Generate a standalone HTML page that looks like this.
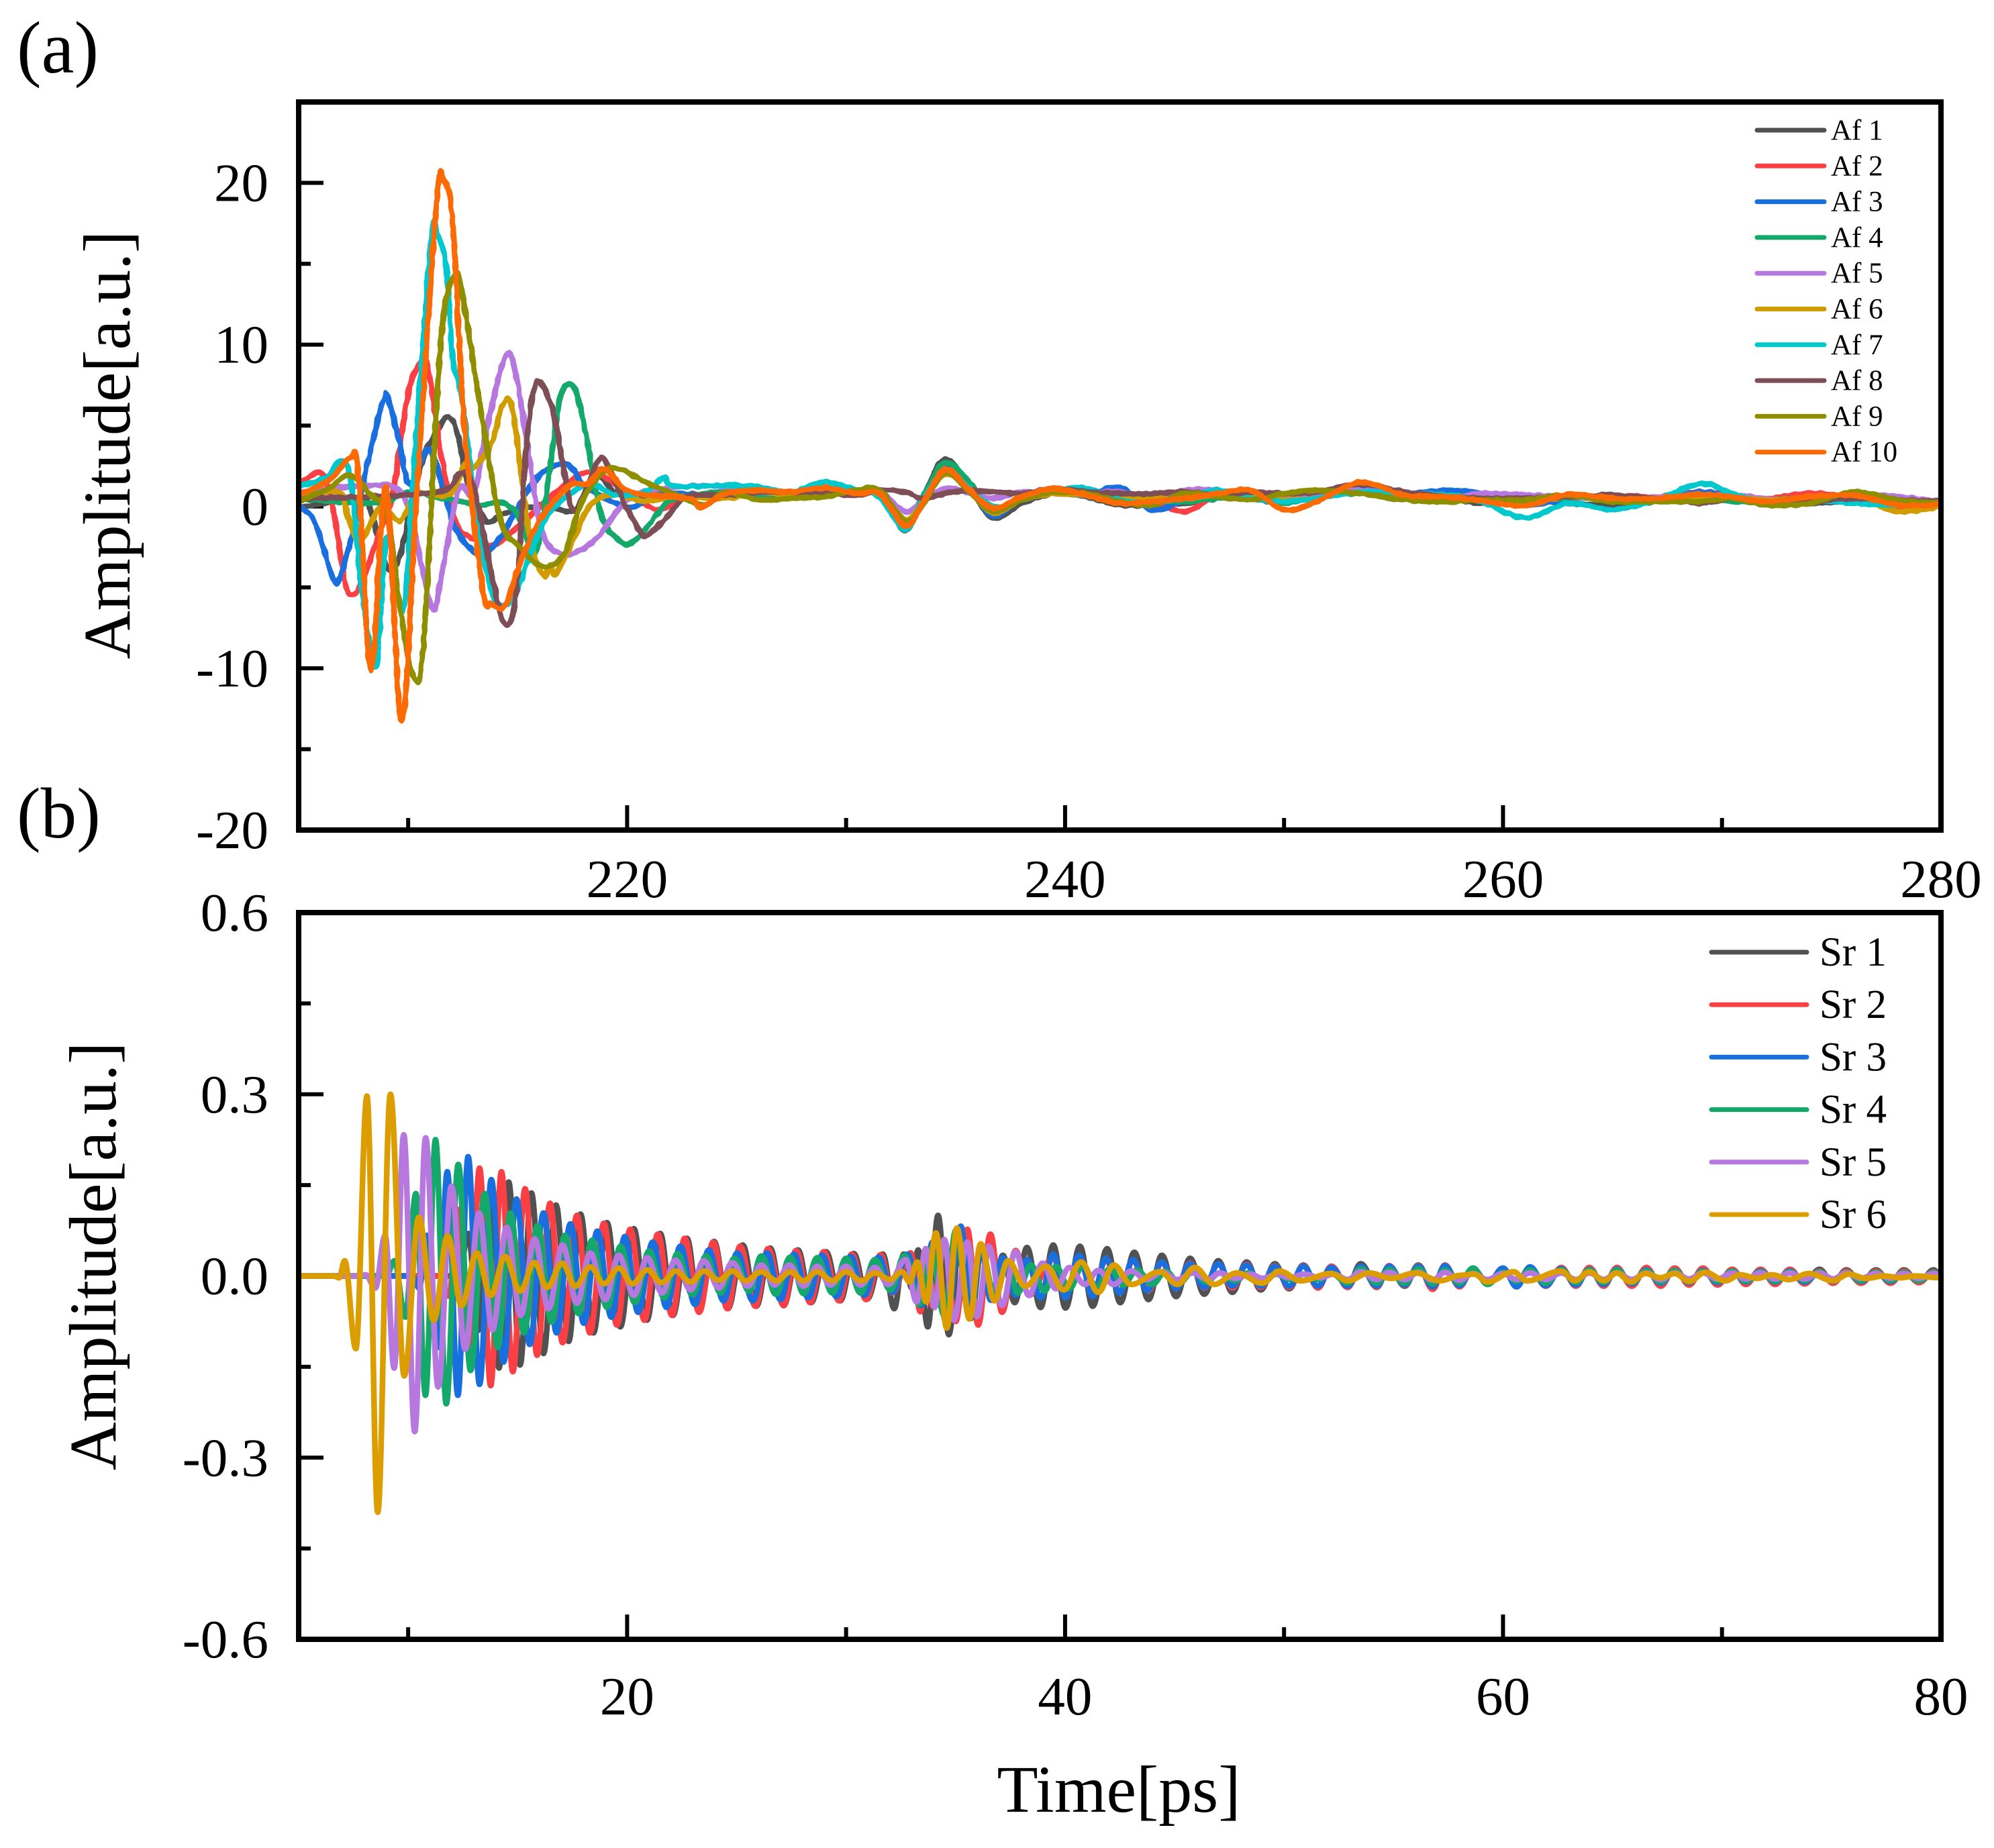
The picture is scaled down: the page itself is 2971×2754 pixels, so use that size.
<!DOCTYPE html>
<html lang="en">
<head>
<meta charset="utf-8">
<title>Amplitude versus time, panels a and b</title>
<style>
html,body{margin:0;padding:0;background:#fff;}
svg{display:block;font-family:"Liberation Serif",serif;fill:#000;}
</style>
</head>
<body>
<svg id="figure" xmlns="http://www.w3.org/2000/svg" width="2971" height="2754" viewBox="0 0 2971 2754">
<defs>
<clipPath id="clip-a"><rect x="445" y="152" width="2447" height="1085"/></clipPath>
<clipPath id="clip-b"><rect x="445" y="1360" width="2447" height="1083"/></clipPath>
<filter id="jitter" filterUnits="userSpaceOnUse" x="400" y="120" width="2540" height="1150" color-interpolation-filters="sRGB">
<feTurbulence type="fractalNoise" baseFrequency="0.11 0.07" numOctaves="1" seed="7" result="noise"/>
<feDisplacementMap in="SourceGraphic" in2="noise" scale="5" xChannelSelector="R" yChannelSelector="G"/>
</filter>
</defs>
<rect x="0" y="0" width="2971" height="2754" fill="#fff"/>
<text x="25" y="108" font-size="110">(a)</text>
<text x="25" y="1248" font-size="107">(b)</text>
<text transform="translate(193 663) rotate(-90)" text-anchor="middle" font-size="100">Amplitude[a.u.]</text>
<text transform="translate(172 1872) rotate(-90)" text-anchor="middle" font-size="100">Amplitude[a.u.]</text>
<text x="1667" y="2700" text-anchor="middle" font-size="100">Time[ps]</text>
<g id="panel-a"></g>
<g id="panel-b"></g>
</svg>
<script>
/* ---------- Panel (a) axis values ---------- */
const afXMajorTicks = [220, 240, 260, 280];
const afXMajorLabels = ['220', '240', '260', '280'];
const afXMinorTicks = [210, 230, 250, 270];
const afYMajorTicks = [-20, -10, 0, 10, 20];
const afYMajorLabels = ['-20', '-10', '0', '10', '20'];
const afYMinorTicks = [-15, -5, 5, 15];

/* ---------- Panel (a) series ---------- */
const afNames = ['Af 1', 'Af 2', 'Af 3', 'Af 4', 'Af 5', 'Af 6', 'Af 7', 'Af 8', 'Af 9', 'Af 10'];

const af1Times = [205.05,207.51,208.06,208.47,209.02,209.5,209.98,210.66,211.76,212.3,212.71,213.53,214.36,215.58,216.27,217.5,218.05,218.73,219.55,220.78];
const af1Values = [-0.05,0.48,0.48,-1.11,-3.71,-3.5,-1.11,2.86,5.5,4.19,1.54,-0.85,-0.45,-0.05,0.08,-0.32,0.74,1.8,0.74,0.48];
const af2Times = [205.05,206.01,206.56,207.1,207.45,208,208.75,209.29,209.98,210.59,210.93,211.48,212.17,212.85,213.81,214.9,216,217.09,218.05,219,220.1,221.47,222.84];
const af2Values = [1.4,2.07,-0.05,-4.56,-5.48,-4.29,-1.38,0.74,6.84,8.96,8.43,3.39,-0.98,-1.91,-2.44,-1.38,-0.05,1.27,2.07,1.8,0.74,-0.19,0.74];
const af3Times = [205.05,205.74,206.56,206.9,207.51,208.13,208.88,209.09,209.57,210.05,210.93,211.62,212.17,213.26,214.22,214.9,216,217.23,218.05,219.28,220.24,221.47];
const af3Values = [0,-0.98,-4.42,-4.29,-1.38,2.6,6.6,6.6,4.19,1.4,3.52,1,-1.38,-2.97,-1.91,-0.32,1.93,2.6,1.27,0.34,-0.05,0.74];
const af4Times = [205.05,208.47,209.98,211.21,212.3,213.26,214.22,215.04,215.72,216.2,216.68,217.02,217.57,218.05,218.6,219,219.89,220.51,221.47,222.15];
const af4Values = [0.48,0.21,0.87,0.61,0.34,0.08,0.26,-0.58,-2.97,-0.32,4.45,7.1,7.37,4.98,0.74,-1.11,-2.31,-1.91,-0.32,0.48];
const af5Times = [205.05,207.79,209.43,210.11,211.07,211.48,212.3,212.99,213.53,214.42,214.9,215.58,216.13,217.09,218.46,219.69,220.65,222.97];
const af5Values = [0.87,1.27,1.14,-0.58,-6.2,-4.56,1,0.74,4.45,9.2,8.3,2.6,-1.64,-2.97,-2.17,-0.05,0.87,1.27];
const af6Times = [205.05,206.83,207.24,207.79,208.75,209.63,210.39,211.89,212.58,213.05,213.81,214.29,214.7,215.11,215.58,216.2,216.47,216.75,217.5,218.32,219.42,220.78,222.15];
const af6Values = [0.61,0.87,-0.58,-2.17,-0.05,-0.9,0.74,0.74,2.6,2.46,3.92,6.17,6.36,2.6,-2.17,-4.29,-3.63,-4.16,-2.17,0.08,0.74,0.34,0.61];
const af7Times = [205.05,206.28,206.9,207.38,207.92,208.54,209.02,209.77,210.25,211.05,211.33,211.74,212.03,212.44,212.99,213.67,214.22,214.9,215.65,216.34,217.36,218.32,219.42,220.78,221.67,222.15];
const af7Values = [1.27,1.8,2.81,1.54,-5.48,-9.86,-1.91,-6.41,2.07,16.4,16.8,14.79,9.22,6.84,0.74,-4.56,-6.15,-5.35,-2.7,-0.58,0.74,1.4,0.74,0.87,1.8,1.27];
const af8Times = [205.05,211.2,212.37,212.99,213.67,214.36,214.9,215.38,215.72,216.06,216.68,217.5,218.18,218.8,219.28,219.96,220.65,220.92,221.88,222.7];
const af8Values = [0.48,0.87,2.07,1.27,-3.23,-7.15,-5.62,3.39,7.1,7.63,5.51,-0.19,1.27,2.99,2.07,-0.05,-1.64,-1.78,-0.58,0.61];
const af9Times = [205.05,206.42,207.35,208.47,209.02,209.7,210.32,210.73,211.48,212.12,212.53,213.4,214.22,215.04,216.13,217.09,217.91,218.87,219.62,220.78,222.15,223.52];
const af9Values = [0.34,1.14,1.93,0.48,-0.19,-6.94,-10.7,-8,10,14.3,12.67,5.25,-0.85,-2.44,-3.71,-2.97,0.21,2.07,2.33,1.54,0.74,0.08];
const af10Times = [205.05,206.42,207.35,207.72,208.31,208.98,209.7,210.39,211.3,211.63,212.03,212.58,213.4,213.81,214.42,215.04,216,217.36,218.18,218.94,219.83,220.78,222.84,223.38];
const af10Values = [0.74,1.67,3,2.07,-10.12,1.14,-13.25,0.74,18.8,20.1,17.6,4.72,-5.09,-6.01,-6.15,-3.76,-0.85,1.27,1.4,2.33,1.14,0.74,0.48,-0.05];

const afTailTimes = [224.5,226,227.5,229,230.5,231.5,232.7,233.5,234.5,235.5,236.7,238,239.5,241,242.5,244,245.5,247,248.5,250,251.5,253.5,255.5,257.5,259,261,263,265,267,269,270.5,272,274,276,278,280];
const af1TailValues = [0.8,0.6,0.5,0.7,0.8,0.8,-1.45,0.6,2.9,1.5,-0.7,0.2,0.8,0.6,0.1,0.1,0.2,0.5,0.7,0.5,0.8,1.1,0.6,0.5,0.2,0.4,0.2,0.1,0.3,0.5,0.5,0.1,0.2,0.3,0.4,0.2];
const af2TailValues = [0.6,0.9,0.8,1,0.9,0.9,-1.1,0.3,2.4,1.4,-0.2,0.5,0.9,0.8,1,0.3,-0.3,0.7,0.6,0.5,0.5,1,0.6,0.8,0.7,0.4,0.6,0.7,0.6,0.9,0.7,0.5,0.8,0.6,-0.1,0.1];
const af3TailValues = [0.7,0.8,0.7,0.9,1,0.9,-1.2,0.4,2.5,1.5,-0.6,0.5,0.9,0.7,1.2,-0.2,0.4,0.9,0.5,0.2,0.6,1,0.8,1,0.8,0.1,0.5,0.7,0.4,0.9,0.6,0.3,0.4,0.6,0.3,0.3];
const af4TailValues = [0.9,0.7,0.6,0.8,1,1,-1,0.6,2.7,1.7,-0.1,0.5,0.9,0.7,0.6,0.4,0.3,0.5,0.5,0.2,0.6,0.8,0.4,0.6,0.5,0.5,0.5,0.6,0.4,0.6,0.3,0.4,0.5,0.4,0.2,0.2];
const af5TailValues = [1.2,0.9,0.8,1,0.9,0.9,-0.3,0.3,1.1,0.9,0.5,0.9,0.8,0.8,0.9,0.3,1,1,0.6,0.5,0.8,1,0.7,0.5,0.8,0.7,0.6,0.5,0.6,0.7,0.7,0.5,0.3,0.7,0.6,0.3];
const af6TailValues = [0.5,0.9,0.7,0.8,0.9,0.9,-0.8,0.3,2,1.2,-0.4,0.4,0.8,0.7,0.6,0.5,0.5,0.7,0.6,0.4,0.5,0.9,0.6,0.5,0.5,0.3,0.6,0.6,0.5,0.6,0.6,0.4,0.5,0.6,-0.3,0];
const af7TailValues = [1.3,1.2,0.9,1.5,1,0.6,-1.4,0.4,2.2,1.3,0,0.4,1,1.1,0.4,0.2,0.6,1,0.5,0.3,0.5,0.9,0.8,0.7,0.3,-0.7,0.2,-0.2,0.4,1.4,0.8,0.2,0.4,0.2,0.1,0.3];
const af8TailValues = [0.7,0.9,0.9,0.8,0.7,1,0.9,0.5,0.8,1,0.9,0.8,1.1,0.9,0.8,0.8,0.9,0.7,0.9,0.8,0.9,1.4,0.9,0.6,0.5,0.5,0.6,0.7,0.5,0.2,0.5,0.2,0.3,0.5,0.4,0.3];
const af9TailValues = [0.9,0.4,0.5,0.6,1,1,-0.9,0.1,2.1,1.1,-0.3,0.4,0.9,0.8,0.3,0.1,0.8,0.6,0.4,0.8,1,0.8,0.4,0.3,0.4,0.4,0.7,0.3,0.3,0.3,0.5,0.1,0.2,0.9,0.4,0.2];
const af10TailValues = [0.8,1,0.9,1.15,0.8,0.8,-1.2,0.2,2.3,1.2,-0.1,0.6,1.1,0.7,0.2,0.3,0.5,0.8,1,-0.2,0.3,1.5,0.7,0.6,0.35,0.05,0.75,0.5,0.5,0.75,0.6,0.3,0.6,0.7,0.1,0.1];

/* ---------- Panel (b) axis values ---------- */
const srXMajorTicks = [20, 40, 60, 80];
const srXMajorLabels = ['20', '40', '60', '80'];
const srXMinorTicks = [10, 30, 50, 70];
const srYMajorTicks = [-0.6, -0.3, 0, 0.3, 0.6];
const srYMajorLabels = ['-0.6', '-0.3', '0.0', '0.3', '0.6'];
const srYMinorTicks = [-0.45, -0.15, 0.15, 0.45];

/* ---------- Panel (b) series: successive crests and troughs ---------- */
const srNames = ['Sr 1', 'Sr 2', 'Sr 3', 'Sr 4', 'Sr 5', 'Sr 6'];

const sr1Times = [5,12,12.3,12.74,13.2,13.65,14.15,14.59,15.11,15.63,16.18,16.75,17.33,17.87,18.46,19.08,19.69,20.31,20.9,21.51,22.09,22.73,23.29,23.97,24.6,25.28,25.9,26.53,27.15,27.8,28.4,29.08,29.73,30.35,30.96,31.67,32.2,32.63,33,33.29,33.73,34.2,34.69,35.24,35.71,36.2,36.66,37.16,37.7,38.26,38.88,39.46,40.02,40.68,41.26,41.92,42.52,43.16,43.81,44.42,45.07,45.71,46.36,47,47.64,48.29,48.94,49.58,50.23,50.88,51.55,52.16];
const sr1Values = [0,0,-0.01,0.07,-0.09,0.12,-0.152,0.155,-0.147,0.137,-0.128,0.117,-0.108,0.102,-0.094,0.088,-0.084,0.078,-0.073,0.07,-0.065,0.062,-0.057,0.057,-0.054,0.051,-0.05,0.046,-0.049,0.043,-0.044,0.04,-0.041,0.037,-0.038,0.036,-0.054,0.036,-0.02,0.043,-0.084,0.1,-0.097,0.082,-0.07,0.05,-0.04,0.034,-0.044,0.047,-0.052,0.051,-0.053,0.049,-0.05,0.045,-0.044,0.039,-0.039,0.034,-0.034,0.029,-0.03,0.025,-0.027,0.023,-0.023,0.02,-0.021,0.018,-0.019,0.016];
const sr2Times = [5,11.4,11.85,12.3,12.8,13.26,13.77,14.26,14.78,15.34,15.89,16.48,17.05,17.71,18.3,18.94,19.53,20.14,20.79,21.4,22.05,22.63,23.29,23.93,24.58,25.16,25.86,26.44,27.15,27.71,28.36,28.98,29.68,30.26,30.91,31.58,32.1,32.95,33.39,33.65,33.95,34.48,35.01,35.54,36.03,36.59,37.12,37.74,38.35,39.46,40.02,40.64,41.26,41.87,42.49,43.1,43.81,44.42,45.07,45.71,46.36,47,47.64,48.29,48.94,49.58,50.23,50.88,51.55,52.16];
const sr2Values = [0,0,-0.033,0.11,-0.12,0.178,-0.181,0.172,-0.158,0.144,-0.131,0.12,-0.11,0.1,-0.094,0.087,-0.081,0.077,-0.073,0.069,-0.065,0.062,-0.06,0.056,-0.054,0.049,-0.05,0.045,-0.049,0.042,-0.044,0.04,-0.041,0.036,-0.039,0.035,-0.028,0.038,-0.059,0.02,-0.05,0.06,-0.075,0.077,-0.081,0.069,-0.06,0.042,-0.032,0.03,-0.032,0.03,-0.03,0.027,-0.026,0.025,-0.024,0.022,-0.02,0.021,-0.02,0.02,-0.02,0.019,-0.019,0.017,-0.019,0.017,-0.02,0.016];
const sr3Times = [5,10.2,10.5,10.87,11.35,11.79,12.27,12.74,13.26,13.8,14.36,14.95,15.55,16.18,16.78,17.41,18.02,18.64,19.28,19.9,20.5,21.17,21.8,22.43,23.1,23.73,24.4,25.03,25.74,26.39,27,27.62,28.27,28.91,29.56,30.21,30.84,31.49,32.11,32.81,33.43,33.95,34.57,35.24,35.71,36.15,36.6,37.15,37.74,38.26,38.88,39.46,40.02,40.64,41.26,41.87,42.49,43.1,43.75,44.42,45.07,45.71,46.36,47,47.64,48.29,48.94,49.58,50.23,50.88,51.55,52.16];
const sr3Values = [0,0,-0.02,0.067,-0.118,0.172,-0.197,0.197,-0.179,0.159,-0.142,0.127,-0.113,0.104,-0.094,0.086,-0.078,0.074,-0.068,0.065,-0.06,0.056,-0.052,0.049,-0.047,0.043,-0.041,0.038,-0.041,0.038,-0.039,0.036,-0.036,0.034,-0.034,0.032,-0.032,0.031,-0.027,0.036,-0.049,0.056,-0.076,0.082,-0.069,0.05,-0.04,0.03,-0.032,0.027,-0.036,0.036,-0.036,0.034,-0.034,0.029,-0.028,0.027,-0.024,0.023,-0.021,0.02,-0.019,0.02,-0.017,0.018,-0.017,0.016,-0.017,0.016,-0.017,0.014];
const sr4Times = [5,9,9.37,9.87,10.35,10.79,11.25,11.74,12.29,12.85,13.5,14.08,14.67,15.29,15.9,16.55,17.16,17.78,18.4,19.08,19.7,20.35,21,21.7,22.3,22.98,23.6,24.27,24.9,25.57,26.13,26.79,27.45,28.06,28.68,29.38,30,30.66,31.32,32.02,32.67,33.34,33.87,34.48,35.01,35.63,36.15,36.77,37.39,37.83,38.44,39.06,39.58,40.2,40.82,41.43,42.05,42.66,43.28,43.98,44.6,45.21,45.83,46.45,47.06,47.77,48.38,49,49.61,50.32,50.9,51.55,52.16];
const sr4Values = [0,0,0.025,-0.068,0.136,-0.197,0.225,-0.211,0.184,-0.156,0.136,-0.118,0.104,-0.094,0.083,-0.076,0.067,-0.062,0.059,-0.052,0.049,-0.044,0.041,-0.036,0.037,-0.031,0.033,-0.028,0.029,-0.025,0.033,-0.03,0.031,-0.029,0.03,-0.028,0.029,-0.028,0.027,-0.023,0.034,-0.047,0.045,-0.065,0.075,-0.069,0.05,-0.03,0.023,-0.028,0.018,-0.025,0.016,-0.021,0.018,-0.019,0.012,-0.015,0.01,-0.014,0.008,-0.012,0.007,-0.01,0.005,-0.008,0.005,-0.008,0.003,-0.006,0.003,-0.006,0.004];
const sr5Times = [5,7.8,8.06,8.5,8.95,9.36,9.8,10.3,10.8,11.37,11.98,12.6,13.24,13.85,14.5,15.14,15.77,16.41,17.05,17.71,18.32,19,19.62,20.31,20.92,21.6,22.2,22.9,23.5,24.2,24.8,25.51,26.13,26.74,27.41,28.06,28.68,29.29,30,30.66,31.32,31.93,32.72,33.22,33.64,34.04,34.48,34.92,35.54,35.98,36.51,37.12,37.74,38.35,38.97,39.58,40.2,40.9,41.52,42.22,43.02,43.72,44.42,45.13,45.83,46.53,47.06,47.77,48.47,49,49.7,50.23,50.93,51.64,52.25];
const sr5Values = [0,0,0.002,-0.02,0.067,-0.152,0.233,-0.257,0.228,-0.183,0.148,-0.121,0.104,-0.089,0.08,-0.065,0.061,-0.054,0.051,-0.045,0.038,-0.039,0.034,-0.032,0.03,-0.028,0.026,-0.023,0.025,-0.02,0.022,-0.017,0.018,-0.015,0.018,-0.017,0.016,-0.015,0.016,-0.015,0.014,-0.014,0.027,-0.043,0.045,-0.052,0.06,-0.073,0.056,-0.067,0.049,-0.049,0.04,-0.032,0.021,-0.021,0.014,-0.014,0.009,-0.014,0.008,-0.006,0.007,-0.006,0.005,-0.006,0.005,-0.004,0.003,-0.004,0.003,-0.003,0.003,-0.003,0.003];
const sr6Times = [5,6.6,6.85,7.1,7.61,8.12,8.61,9.19,9.82,10.49,11.17,11.8,12.44,13.13,13.77,14.43,15.11,15.77,16.34,17.03,17.64,18.32,18.94,19.62,20.24,20.92,21.58,22.22,22.9,23.52,24.2,24.82,25.42,26.13,26.83,27.45,28.06,28.68,29.38,30,30.7,31.32,32.02,32.55,32.9,33.25,33.66,34.1,34.6,35.06,35.63,36.15,36.77,37.39,38.18,39.14,39.94,40.73,41.52,42.22,43.02,44.33,45.13,45.92,46.8,47.85,49,49.79,50.76,52.14,52.91,53.88,54.9,56.02,57.1,58.07,58.68,59.29,60.47,61.08,62.66,63.28,63.94,64.6,65.2,65.83,66.5,67.19,67.84,68.51,69.23,70.16,70.83,71.61,72.28,73.05,73.98,75.07,75.79,76.56,77.39,78.16,78.83,80];
const sr6Values = [0,0,-0.003,0.025,-0.12,0.297,-0.39,0.3,-0.165,0.097,-0.073,0.066,-0.049,0.038,-0.032,0.032,-0.025,0.022,-0.019,0.021,-0.017,0.015,-0.013,0.013,-0.013,0.01,-0.011,0.008,-0.01,0.008,-0.007,0.008,-0.008,0.007,-0.008,0.007,-0.008,0.007,-0.008,0.007,-0.008,0.005,-0.006,0.007,-0.01,0.023,-0.043,0.071,-0.086,0.079,-0.071,0.053,-0.041,0.025,-0.017,0.016,-0.023,0.023,-0.027,0.018,-0.014,0.007,-0.014,0.014,-0.014,0.005,-0.012,0.008,-0.008,0.004,-0.008,0.005,-0.004,0.005,-0.008,0.001,0.003,-0.01,0.007,-0.008,0.008,-0.008,0.007,-0.008,0.005,-0.01,0.004,-0.003,0.004,-0.009,0.006,-0.008,0.002,-0.004,0.002,-0.006,0.004,-0.008,0.003,-0.004,0,-0.003,0,-0.003];

const srTailTimes = [52.91,53.5,54.24,54.8,55.51,56.13,56.79,57.35,58.01,58.63,59.29,60,60.62,61.23,61.95,62.66,63.33,63.94,64.6,65.2,65.88,66.55,67.2,67.84,68.5,69.13,69.8,70.47,71.09,71.76,72.43,73.1,73.77,74.45,75.07,75.68,76.35,77.03,77.7,78.3,79,79.66,80];
const sr1TailValues = [-0.017,0.02,-0.015,0.016,-0.017,0.018,-0.02,0.016,-0.015,0.012,-0.011,0.01,-0.015,0.012,-0.013,0.012,-0.013,0.012,-0.014,0.012,-0.014,0.012,-0.014,0.012,-0.013,0.012,-0.013,0.011,-0.013,0.011,-0.013,0.011,-0.013,0.011,-0.012,0.01,-0.012,0.01,-0.012,0.01,-0.011,0.01,0];
const sr2TailValues = [-0.019,0.016,-0.019,0.017,-0.016,0.017,-0.022,0.018,-0.018,0.012,-0.013,0.009,-0.012,0.014,-0.017,0.014,-0.017,0.014,-0.017,0.014,-0.017,0.014,-0.017,0.013,-0.015,0.013,-0.015,0.011,-0.014,0.011,-0.014,0.011,-0.013,0.008,-0.012,0.008,-0.012,0.008,-0.012,0.008,-0.011,0.007,0];
const sr3TailValues = [-0.017,0.016,-0.017,0.016,-0.015,0.016,-0.018,0.017,-0.016,0.011,-0.013,0.013,-0.018,0.015,-0.016,0.012,-0.015,0.011,-0.014,0.011,-0.013,0.01,-0.012,0.009,-0.011,0.009,-0.011,0.008,-0.01,0.008,-0.01,0.008,-0.01,0.006,-0.009,0.006,-0.009,0.006,-0.009,0.006,-0.008,0.006,0];
const sr4TailValues = [-0.012,0.012,-0.012,0.011,-0.012,0.012,-0.013,0.01,-0.012,0.013,-0.014,0.006,-0.009,0.01,-0.012,0.01,-0.011,0.01,-0.011,0.01,-0.011,0.009,-0.01,0.009,-0.01,0.008,-0.009,0.008,-0.009,0.007,-0.009,0.007,-0.008,0.007,-0.008,0.006,-0.008,0.006,-0.008,0.006,-0.008,0.006,0];
const sr5TailValues = [-0.006,0.007,-0.006,0.006,-0.006,0.006,-0.007,0.006,-0.007,0.004,-0.006,0.004,-0.006,0.005,-0.006,0.005,-0.006,0.005,-0.006,0.005,-0.006,0.005,-0.006,0.005,-0.005,0.005,-0.005,0.005,-0.005,0.005,-0.005,0.005,-0.005,0.005,-0.005,0.005,-0.004,0.004,-0.004,0.004,-0.004,0.004,0];

/* ---------- Palettes ---------- */
const afColors = ['#515151','#FA4044','#1A6FDF','#14A86A','#B678DE','#D09C00','#00C8CC','#7D4E55','#8E8E00','#FB6A05'];
const srColors = ['#515151','#FA4044','#1A6FDF','#14A86A','#B678DE','#DB9D00'];

/* ---------- Helpers ---------- */
const SVG_NS = 'http://www.w3.org/2000/svg';
function make(parent, tag, attrs, text) {
  const el = document.createElementNS(SVG_NS, tag);
  Object.keys(attrs).forEach(function (k) { el.setAttribute(k, attrs[k]); });
  if (text !== undefined) el.textContent = text;
  parent.appendChild(el);
  return el;
}
function linearAxis(d0, d1, r0, r1) {
  return function (v) { return r0 + (v - d0) * (r1 - r0) / (d1 - d0); };
}
function catmullPath(xs, ys, sx, sy) {
  const p = xs.map(function (x, i) { return [sx(x), sy(ys[i])]; });
  let d = 'M' + p[0][0].toFixed(1) + ' ' + p[0][1].toFixed(1);
  for (let i = 0; i < p.length - 1; i++) {
    const a = p[i - 1] || p[i], b = p[i], c = p[i + 1], e = p[i + 2] || c;
    d += 'C' + (b[0] + (c[0] - a[0]) / 6).toFixed(1) + ' ' + (b[1] + (c[1] - a[1]) / 6).toFixed(1) + ' ' +
      (c[0] - (e[0] - b[0]) / 6).toFixed(1) + ' ' + (c[1] - (e[1] - b[1]) / 6).toFixed(1) + ' ' +
      c[0].toFixed(1) + ' ' + c[1].toFixed(1);
  }
  return d;
}
function extremaPath(xs, ys, sx, sy) {
  const p = xs.map(function (x, i) { return [sx(x), sy(ys[i])]; });
  let d = 'M' + p[0][0].toFixed(1) + ' ' + p[0][1].toFixed(1);
  for (let i = 0; i < p.length - 1; i++) {
    const b = p[i], c = p[i + 1], dx = (c[0] - b[0]) * 0.37;
    d += 'C' + (b[0] + dx).toFixed(1) + ' ' + b[1].toFixed(1) + ' ' + (c[0] - dx).toFixed(1) + ' ' + c[1].toFixed(1) + ' ' + c[0].toFixed(1) + ' ' + c[1].toFixed(1);
  }
  return d;
}
function drawTicks(root, box, sx, sy, ticks, prefix) {
  ticks.xMinor.forEach(function (v) {
    const t = make(root, 'line', { x1: sx(v), x2: sx(v), y1: box.bottom, y2: box.bottom - 18, stroke: '#000', 'stroke-width': 6 });
    
    
  });
  ticks.xMajor.forEach(function (v, i) {
    const t = make(root, 'line', { x1: sx(v), x2: sx(v), y1: box.bottom, y2: box.bottom - 37, stroke: '#000', 'stroke-width': 6 });
    
    
    const l = make(root, 'text', { x: sx(v), y: box.bottom + ticks.xLabelGap, 'text-anchor': 'middle', 'font-size': 81 }, ticks.xLabels[i]);
    
    
  });
  ticks.yMinor.forEach(function (v) {
    const t = make(root, 'line', { x1: box.left, x2: box.left + 18, y1: sy(v), y2: sy(v), stroke: '#000', 'stroke-width': 6 });
    
    
  });
  ticks.yMajor.forEach(function (v, i) {
    const t = make(root, 'line', { x1: box.left, x2: box.left + 37, y1: sy(v), y2: sy(v), stroke: '#000', 'stroke-width': 6 });
    
    
    const l = make(root, 'text', { x: 400, y: sy(v) + 27, 'text-anchor': 'end', 'font-size': 81 }, ticks.yLabels[i]);
    
    
  });
}
function drawFrame(root, box, prefix) {
  const frame = make(root, 'rect', { x: box.left, y: box.top, width: box.right - box.left, height: box.bottom - box.top, fill: 'none', stroke: '#000', 'stroke-width': 8 });
  
  
}

/* ---------- Panel (a) ---------- */
(function () {
  const root = document.getElementById('panel-a');
  const box = { left: 445, right: 2892, top: 152, bottom: 1237 };
  const sx = linearAxis(205, 280, box.left, box.right);
  const sy = linearAxis(-20, 25, box.bottom, box.top);
  const heads = [[af1Times, af1Values, af1TailValues], [af2Times, af2Values, af2TailValues], [af3Times, af3Values, af3TailValues], [af4Times, af4Values, af4TailValues], [af5Times, af5Values, af5TailValues], [af6Times, af6Values, af6TailValues], [af7Times, af7Values, af7TailValues], [af8Times, af8Values, af8TailValues], [af9Times, af9Values, af9TailValues], [af10Times, af10Values, af10TailValues]];
  drawTicks(root, box, sx, sy, { xMajor: afXMajorTicks, xLabels: afXMajorLabels, xMinor: afXMinorTicks, yMajor: afYMajorTicks, yLabels: afYMajorLabels, yMinor: afYMinorTicks, xLabelGap: 100 }, 'panel-a');
  const clip = make(root, 'g', { 'clip-path': 'url(#clip-a)' });
  
  
  const lines = make(clip, 'g', { filter: 'url(#jitter)' });
  
  
  heads.forEach(function (h, i) {
    const xs = h[0].concat(afTailTimes);
    const ys = h[1].concat(h[2]);
    const path = make(lines, 'path', { d: catmullPath(xs, ys, sx, sy), fill: 'none', stroke: afColors[i], 'stroke-width': 8.5, 'stroke-linejoin': 'round', 'stroke-linecap': 'round' });
    
    
  });
  drawFrame(root, box, 'panel-a');
  const legend = make(root, 'g', {});
  
  
  afNames.forEach(function (n, i) {
    const y = 194 + 53.3 * i;
    const swatch = make(legend, 'line', { x1: 2618, x2: 2718, y1: y, y2: y, stroke: afColors[i], 'stroke-width': 7, 'stroke-linecap': 'round' });
    
    
    const label = make(legend, 'text', { x: 2728, y: y + 14, 'font-size': 43 }, n);
    
    
  });
})();

/* ---------- Panel (b) ---------- */
(function () {
  const root = document.getElementById('panel-b');
  const box = { left: 445, right: 2892, top: 1360, bottom: 2443 };
  const sx = linearAxis(5, 80, box.left, box.right);
  const sy = linearAxis(-0.6, 0.6, box.bottom, box.top);
  const series = [
    [sr1Times.concat(srTailTimes), sr1Values.concat(sr1TailValues)],
    [sr2Times.concat(srTailTimes), sr2Values.concat(sr2TailValues)],
    [sr3Times.concat(srTailTimes), sr3Values.concat(sr3TailValues)],
    [sr4Times.concat(srTailTimes), sr4Values.concat(sr4TailValues)],
    [sr5Times.concat(srTailTimes), sr5Values.concat(sr5TailValues)],
    [sr6Times, sr6Values]
  ];
  drawTicks(root, box, sx, sy, { xMajor: srXMajorTicks, xLabels: srXMajorLabels, xMinor: srXMinorTicks, yMajor: srYMajorTicks, yLabels: srYMajorLabels, yMinor: srYMinorTicks, xLabelGap: 112 }, 'panel-b');
  const clip = make(root, 'g', { 'clip-path': 'url(#clip-b)' });
  
  
  series.forEach(function (s, i) {
    const path = make(clip, 'path', { d: extremaPath(s[0], s[1], sx, sy), fill: 'none', stroke: srColors[i], 'stroke-width': 8.5, 'stroke-linejoin': 'round', 'stroke-linecap': 'round' });
    
    
  });
  drawFrame(root, box, 'panel-b');
  const legend = make(root, 'g', {});
  
  
  srNames.forEach(function (n, i) {
    const y = 1419 + 78.2 * i;
    const swatch = make(legend, 'line', { x1: 2550, x2: 2692, y1: y, y2: y, stroke: srColors[i], 'stroke-width': 7, 'stroke-linecap': 'round' });
    
    
    const label = make(legend, 'text', { x: 2711, y: y + 20, 'font-size': 61 }, n);
    
    
  });
})();
</script>
</body>
</html>
